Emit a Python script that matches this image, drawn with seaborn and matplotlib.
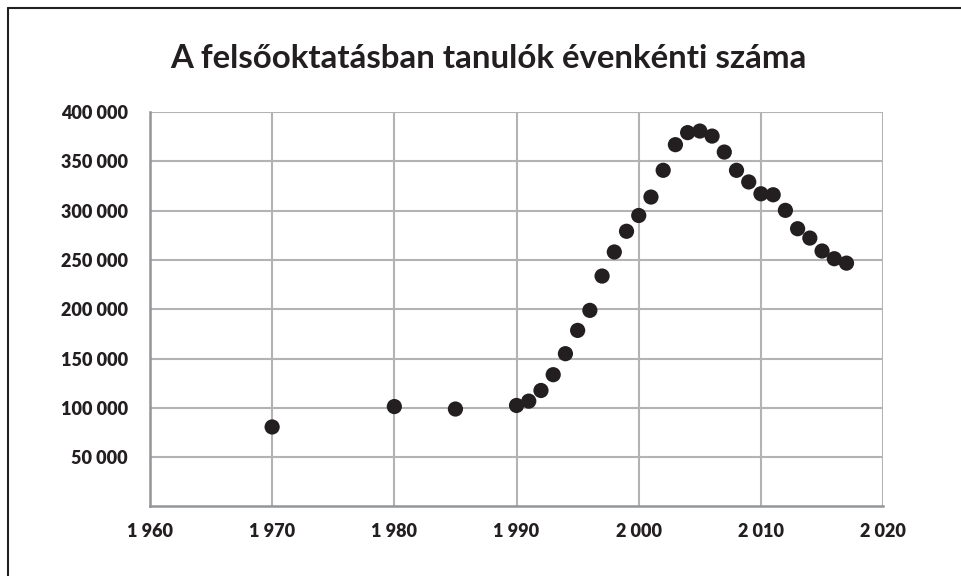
import matplotlib
matplotlib.use("Agg")
import matplotlib.pyplot as plt
import pandas as pd
import seaborn as sns
from matplotlib.lines import Line2D
from matplotlib.ticker import FuncFormatter

# Data
years = [1970, 1980, 1985, 1990, 1991, 1992, 1993, 1994, 1995, 1996, 1997,
         1998, 1999, 2000, 2001, 2002, 2003, 2004, 2005, 2006, 2007, 2008,
         2009, 2010, 2011, 2012, 2013, 2014, 2015, 2016, 2017]
students = [80600, 101300, 98800, 102400, 106800, 117600, 133600, 154900,
            178500, 198800, 233600, 258000, 279000, 295000, 313700, 340800,
            366800, 379000, 380600, 375500, 359300, 340800, 329000, 317000,
            316000, 300200, 281600, 272100, 259000, 251200, 246700]
x_ticks = [1960, 1970, 1980, 1990, 2000, 2010, 2020]
y_ticks = [50000, 100000, 150000, 200000, 250000, 300000, 350000, 400000]
title = "A felsőoktatásban tanulók évenkénti száma"

df = pd.DataFrame({'year': years, 'students': students})

sns.set_style("white")
plt.rcParams['font.family'] = ['Lato', 'DejaVu Sans']

fig = plt.figure(figsize=(9.61, 5.76), dpi=100)
ax = fig.add_axes([0.156, 0.1207, 0.763, 0.685])

sns.scatterplot(data=df, x='year', y='students', color='#231f20', s=120,
                edgecolor='none', ax=ax, zorder=3)

ax.set_xlim(1960, 2020)
ax.set_ylim(0, 400000)
ax.set_xticks(x_ticks)
ax.set_yticks(y_ticks)

fmt = FuncFormatter(lambda v, p: f"{int(v):,}".replace(",", " "))
ax.xaxis.set_major_formatter(fmt)
ax.yaxis.set_major_formatter(fmt)

ax.grid(True, color='#b3b3b5', lw=1.5)
ax.set_axisbelow(True)
for side in ['top', 'right']:
    ax.spines[side].set_visible(False)
for side in ['left', 'bottom']:
    ax.spines[side].set_color('#939598')
    ax.spines[side].set_linewidth(1.8)

ax.tick_params(axis='both', length=0, labelsize=13, labelcolor='#231f20')
ax.tick_params(axis='y', pad=16)
ax.tick_params(axis='x', pad=12)
for lab in ax.get_xticklabels() + ax.get_yticklabels():
    lab.set_fontweight('heavy')

ax.set_xlabel('')
ax.set_ylabel('')

fig.text(0.508, 0.898, title, ha='center', va='center', fontsize=23.8,
         fontweight='bold', color='#231f20')

# outer frame (only the left and top edges are visible)
fig.add_artist(Line2D([8/961, 8/961], [0, 1 - 8/576], color='#231f20', lw=1.5))
fig.add_artist(Line2D([8/961, 1], [1 - 8/576, 1 - 8/576], color='#231f20', lw=1.5))

fig.savefig('out.png', dpi=100)
